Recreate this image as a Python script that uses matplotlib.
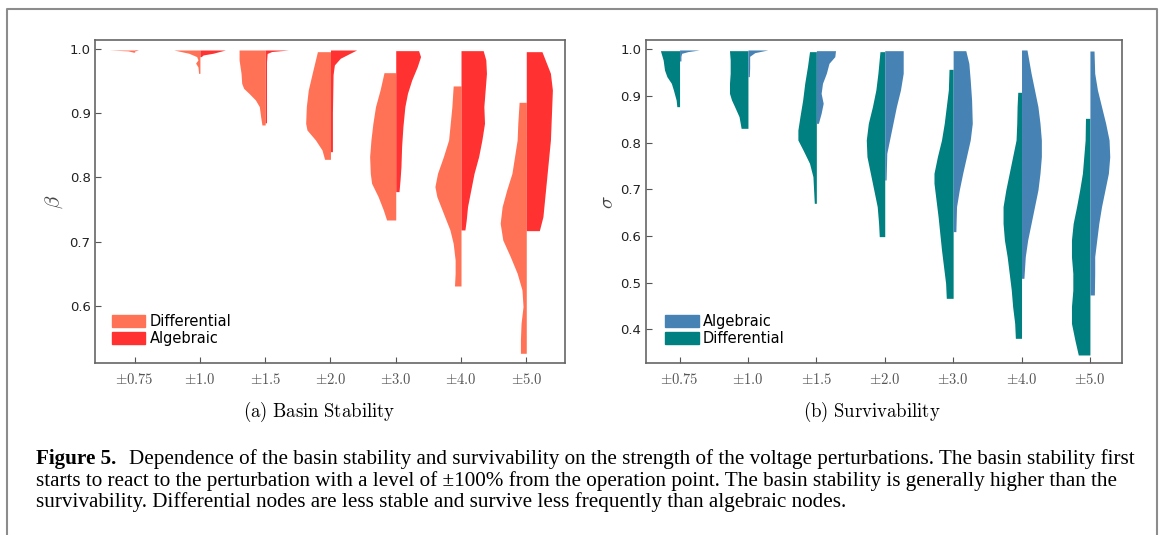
import numpy as np
import matplotlib
matplotlib.use("Agg")
import matplotlib.pyplot as plt
from matplotlib.patches import Patch
from matplotlib.lines import Line2D

plt.rcParams['mathtext.fontset'] = 'cm'
plt.rcParams['font.family'] = 'DejaVu Sans'

# perturbation levels
levels = [r'$\pm0.75$', r'$\pm1.0$', r'$\pm1.5$', r'$\pm2.0$', r'$\pm3.0$', r'$\pm4.0$', r'$\pm5.0$']

# (a) basin stability - half violin outlines (y value, half width)
bs_diff_y = [
    [0.9984, 0.997, 0.995],
    [0.9984, 0.9933, 0.9881, 0.983, 0.978, 0.972, 0.962],
    [0.9984, 0.9829, 0.9621, 0.9465, 0.9387, 0.931, 0.9206, 0.9102, 0.8946, 0.8816],
    [0.9958, 0.9621, 0.9361, 0.9102, 0.8842, 0.8738, 0.8583, 0.8427, 0.8281],
    [0.9631, 0.9361, 0.9102, 0.8842, 0.8583, 0.8323, 0.8063, 0.7908, 0.7700, 0.7492, 0.7336],
    [0.9424, 0.9102, 0.8790, 0.8583, 0.8323, 0.8063, 0.7856, 0.7700, 0.7440, 0.7181, 0.6973, 0.6713, 0.6506, 0.6308],
    [0.9169, 0.8842, 0.8583, 0.8323, 0.8063, 0.7804, 0.7544, 0.7285, 0.7025, 0.6765, 0.6506, 0.6246, 0.5987, 0.5727, 0.5467, 0.5260],
]
bs_diff_w = [
    [0.39, 0.10, 0.02],
    [0.40, 0.17, 0.05, 0.03, 0.066, 0.03, 0.02],
    [0.40, 0.40, 0.37, 0.36, 0.33, 0.25, 0.15, 0.09, 0.07, 0.05],
    [0.20, 0.28, 0.34, 0.37, 0.38, 0.36, 0.23, 0.13, 0.09],
    [0.18, 0.24, 0.31, 0.35, 0.38, 0.40, 0.39, 0.37, 0.27, 0.19, 0.14],
    [0.12, 0.14, 0.17, 0.19, 0.27, 0.36, 0.40, 0.37, 0.27, 0.17, 0.12, 0.09, 0.09, 0.10],
    [0.11, 0.13, 0.14, 0.18, 0.22, 0.30, 0.37, 0.40, 0.36, 0.245, 0.14, 0.066, 0.05, 0.08, 0.09, 0.09],
]
bs_alg_y = [
    [0.9984, 0.997],
    [0.9984, 0.9933, 0.9907, 0.9881],
    [0.9984, 0.996, 0.993, 0.98, 0.95, 0.92, 0.90, 0.885],
    [0.9984, 0.9933, 0.9855, 0.9751, 0.96, 0.90, 0.86, 0.84],
    [0.9974, 0.9881, 0.9725, 0.9517, 0.9309, 0.9102, 0.8790, 0.8479, 0.8167, 0.7960, 0.7778],
    [0.9974, 0.9829, 0.9621, 0.9361, 0.9102, 0.8842, 0.8583, 0.8323, 0.8063, 0.7804, 0.7544, 0.7336, 0.7181],
    [0.9958, 0.9829, 0.9621, 0.9361, 0.9102, 0.8583, 0.8063, 0.7648, 0.7388, 0.7170],
]
bs_alg_w = [
    [0.06, 0.0],
    [0.39, 0.20, 0.05, 0.02],
    [0.36, 0.10, 0.03, 0.02, 0.02, 0.02, 0.02, 0.02],
    [0.40, 0.30, 0.15, 0.06, 0.04, 0.03, 0.03, 0.03],
    [0.35, 0.38, 0.33, 0.245, 0.18, 0.14, 0.11, 0.09, 0.08, 0.066, 0.05],
    [0.34, 0.38, 0.39, 0.37, 0.35, 0.36, 0.32, 0.27, 0.20, 0.15, 0.10, 0.08, 0.06],
    [0.24, 0.29, 0.37, 0.40, 0.39, 0.37, 0.32, 0.28, 0.255, 0.20],
]

# (b) survivability
sv_diff_y = [
    [0.9971, 0.9771, 0.9557, 0.9414, 0.9271, 0.9129, 0.8914, 0.8771],
    [0.9971, 0.9771, 0.9486, 0.9271, 0.9057, 0.8914, 0.8771, 0.8557, 0.8307],
    [0.995, 0.9629, 0.9271, 0.8914, 0.8557, 0.8271, 0.8057, 0.7843, 0.7557, 0.7271, 0.6986, 0.67],
    [0.995, 0.9486, 0.9129, 0.8771, 0.8414, 0.8057, 0.77, 0.7343, 0.6986, 0.6629, 0.6271, 0.5986],
    [0.9571, 0.9129, 0.8771, 0.8414, 0.8057, 0.77, 0.7343, 0.7129, 0.6771, 0.6414, 0.6057, 0.57, 0.5343, 0.4986, 0.4664],
    [0.9079, 0.8771, 0.8414, 0.8057, 0.77, 0.7343, 0.6986, 0.6629, 0.6271, 0.5914, 0.5557, 0.52, 0.4843, 0.4486, 0.4129, 0.3807],
    [0.8521, 0.8057, 0.77, 0.7343, 0.6986, 0.6629, 0.6271, 0.5914, 0.5557, 0.52, 0.4843, 0.4486, 0.4129, 0.3771, 0.345],
]
sv_diff_w = [
    [0.28, 0.24, 0.22, 0.185, 0.12, 0.09, 0.05, 0.04],
    [0.27, 0.26, 0.26, 0.27, 0.27, 0.24, 0.195, 0.13, 0.10],
    [0.10, 0.13, 0.17, 0.20, 0.24, 0.27, 0.27, 0.195, 0.10, 0.05, 0.04, 0.03],
    [0.07, 0.10, 0.13, 0.18, 0.24, 0.27, 0.26, 0.21, 0.16, 0.11, 0.09, 0.08],
    [0.06, 0.07, 0.10, 0.13, 0.17, 0.23, 0.28, 0.28, 0.25, 0.22, 0.195, 0.17, 0.14, 0.11, 0.10],
    [0.055, 0.065, 0.07, 0.08, 0.13, 0.18, 0.23, 0.27, 0.27, 0.25, 0.21, 0.18, 0.15, 0.13, 0.10, 0.09],
    [0.065, 0.07, 0.09, 0.11, 0.15, 0.195, 0.245, 0.27, 0.27, 0.25, 0.25, 0.27, 0.27, 0.22, 0.17],
]
sv_alg_y = [
    [0.9986, 0.995, 0.9914, 0.985, 0.975],
    [0.9986, 0.9929, 0.985, 0.96, 0.9414],
    [0.9971, 0.9843, 0.97, 0.9486, 0.9271, 0.9057, 0.8843, 0.8629, 0.8414],
    [0.9971, 0.9486, 0.9129, 0.8771, 0.8414, 0.8057, 0.7771, 0.72],
    [0.9971, 0.97, 0.9343, 0.8914, 0.8414, 0.8057, 0.77, 0.7343, 0.6986, 0.6629, 0.6093],
    [0.9986, 0.9486, 0.9129, 0.8771, 0.8414, 0.8057, 0.77, 0.7343, 0.6986, 0.6629, 0.6271, 0.5914, 0.5557, 0.5093],
    [0.9964, 0.9486, 0.9129, 0.8771, 0.8414, 0.8057, 0.77, 0.7343, 0.6986, 0.6629, 0.6271, 0.5914, 0.5557, 0.52, 0.4736],
]
sv_alg_w = [
    [0.29, 0.12, 0.03, 0.02, 0.02],
    [0.29, 0.10, 0.025, 0.025, 0.02],
    [0.28, 0.27, 0.185, 0.146, 0.09, 0.07, 0.10, 0.07, 0.03],
    [0.27, 0.27, 0.23, 0.17, 0.12, 0.07, 0.03, 0.02],
    [0.185, 0.23, 0.25, 0.27, 0.28, 0.25, 0.195, 0.14, 0.09, 0.05, 0.04],
    [0.08, 0.14, 0.19, 0.24, 0.27, 0.29, 0.29, 0.27, 0.24, 0.19, 0.14, 0.09, 0.055, 0.035],
    [0.06, 0.07, 0.11, 0.17, 0.23, 0.28, 0.29, 0.27, 0.22, 0.17, 0.13, 0.10, 0.07, 0.07, 0.065],
]

caption = [
    'Dependence of the basin stability and survivability on the strength of the voltage perturbations. The basin stability first',
    'starts to react to the perturbation with a level of \u00b1100% from the operation point. The basin stability is generally higher than the',
    'survivability. Differential nodes are less stable and survive less frequently than algebraic nodes.',
]

c_diff_a, c_alg_a = '#FF7256', '#FF3131'
c_alg_b, c_diff_b = '#4682B4', '#008080'


def half_violins(ax, ys, ws, col, side):
    for i, (y, w) in enumerate(zip(ys, ws)):
        y = np.array(y)
        w = np.array(w)
        if side == 'left':
            ax.fill_betweenx(y, i - w, i, color=col, lw=0)
        else:
            ax.fill_betweenx(y, i, i + w, color=col, lw=0)


def style(ax):
    ax.set_xticks(range(len(levels)))
    ax.set_xticklabels(levels, color='#333333')
    ax.tick_params(direction='in', length=4, colors='#555555', labelsize=9.5, top=False, right=False)
    ax.tick_params(axis='x', labelsize=10.5, pad=6)
    for lab in ax.get_yticklabels():
        lab.set_color('#222222')
    for s in ax.spines.values():
        s.set_color('#666666')
        s.set_linewidth(1.2)


W, H = 1163, 535
fig = plt.figure(figsize=(W / 100, H / 100), dpi=100)
ax1 = fig.add_axes([0.0821, 0.3206, 0.4041, 0.6037])
ax2 = fig.add_axes([0.5555, 0.3206, 0.4093, 0.6037])

half_violins(ax1, bs_diff_y, bs_diff_w, c_diff_a, 'left')
half_violins(ax1, bs_alg_y, bs_alg_w, c_alg_a, 'right')
ax1.set_xlim(-0.6, 6.6)
ax1.set_ylim(0.5101, 1.0132)
ax1.set_yticks([0.6, 0.7, 0.8, 0.9, 1.0])
ax1.set_ylabel(r'$\beta$', fontsize=15, color='#444444', labelpad=3)
style(ax1)
ax1.legend(handles=[Patch(color=c_diff_a, label='Differential'), Patch(color=c_alg_a, label='Algebraic')],
           loc='lower left', bbox_to_anchor=(0.035, 0.055), frameon=False, fontsize=10.5,
           handlelength=2.3, handleheight=0.9, labelspacing=0.12, handletextpad=0.3, borderpad=0, borderaxespad=0)

half_violins(ax2, sv_diff_y, sv_diff_w, c_diff_b, 'left')
half_violins(ax2, sv_alg_y, sv_alg_w, c_alg_b, 'right')
ax2.set_xlim(-0.49, 6.47)
ax2.set_ylim(0.3268, 1.0189)
ax2.set_yticks([0.4, 0.5, 0.6, 0.7, 0.8, 0.9, 1.0])
ax2.set_ylabel(r'$\sigma$', fontsize=15, color='#444444', labelpad=2)
style(ax2)
ax2.legend(handles=[Patch(color=c_alg_b, label='Algebraic'), Patch(color=c_diff_b, label='Differential')],
           loc='lower left', bbox_to_anchor=(0.04, 0.055), frameon=False, fontsize=10.5,
           handlelength=2.3, handleheight=0.9, labelspacing=0.12, handletextpad=0.3, borderpad=0, borderaxespad=0)

# sub-captions
fig.text(319 / W, 1 - 412 / H, r'$\mathrm{(a)\ Basin\ Stability}$', ha='center', va='center', fontsize=13.5)
fig.text(872 / W, 1 - 412 / H, r'$\mathrm{(b)\ Survivability}$', ha='center', va='center', fontsize=13.5)

# figure caption, font size fitted so the first line spans like the original
serif = 'Liberation Serif'
x0 = 36 / W
ys = [1 - 464 / H, 1 - 486 / H, 1 - 507 / H]
fs = 13
bold = fig.text(x0, ys[0], 'Figure 5.', fontfamily=serif, fontweight='bold', fontsize=fs, va='baseline')
rest = fig.text(0.2, ys[0], caption[0], fontfamily=serif, fontsize=fs, va='baseline')
r = fig.canvas.get_renderer()
for _ in range(3):
    bw = bold.get_window_extent(r).width
    rw = rest.get_window_extent(r).width
    total = bw + 13 + rw
    fs = fs * (1133 - 36) / total
    bold.set_fontsize(fs)
    rest.set_fontsize(fs)
bw = bold.get_window_extent(r).width
rest.set_x(x0 + (bw + 13) / W)
fig.text(x0, ys[1], caption[1], fontfamily=serif, fontsize=fs, va='baseline')
fig.text(x0, ys[2], caption[2], fontfamily=serif, fontsize=fs, va='baseline')

# outer frame
fig.add_artist(Line2D([7 / W, 7 / W, 1157 / W, 1157 / W], [0, 1 - 9 / H, 1 - 9 / H, 0],
                      transform=fig.transFigure, color='#8c8c8c', lw=1.5))

fig.savefig('out.png', dpi=100)
